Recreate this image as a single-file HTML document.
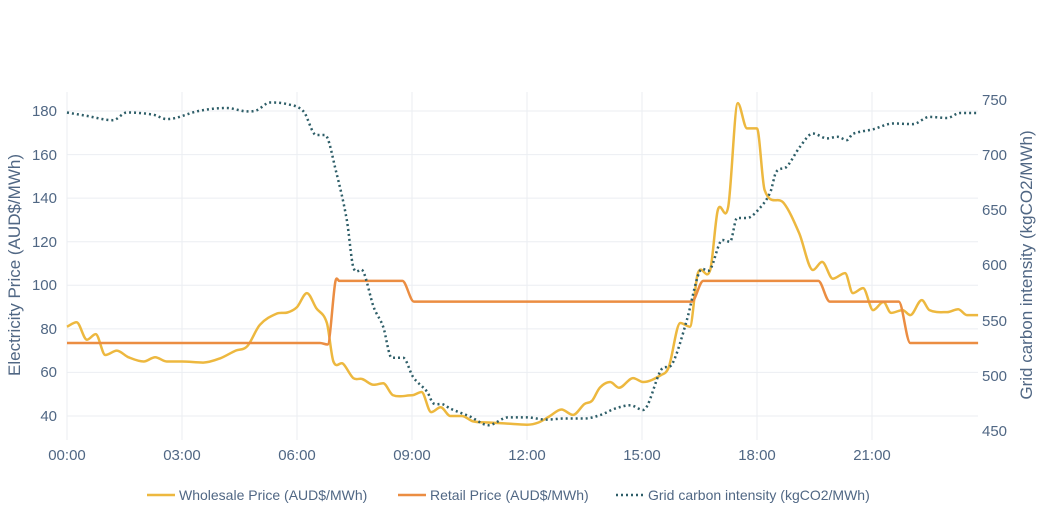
<!DOCTYPE html>
<html><head><meta charset="utf-8"><style>
html,body{margin:0;padding:0;background:#fff;}
svg{display:block;font-family:"Liberation Sans",Arial,sans-serif;}
</style></head><body>
<svg id="s" width="1047" height="518" viewBox="0 0 1047 518">
<g stroke="#ebeef2" stroke-width="1">
<line x1="67" x2="67" y1="92" y2="440"/><line x1="182" x2="182" y1="92" y2="440"/><line x1="297" x2="297" y1="92" y2="440"/><line x1="412" x2="412" y1="92" y2="440"/><line x1="527" x2="527" y1="92" y2="440"/><line x1="642" x2="642" y1="92" y2="440"/><line x1="757" x2="757" y1="92" y2="440"/><line x1="872" x2="872" y1="92" y2="440"/>
<line x1="67" x2="978" y1="111" y2="111"/><line x1="67" x2="978" y1="154.6" y2="154.6"/><line x1="67" x2="978" y1="198.1" y2="198.1"/><line x1="67" x2="978" y1="241.7" y2="241.7"/><line x1="67" x2="978" y1="285.3" y2="285.3"/><line x1="67" x2="978" y1="328.9" y2="328.9"/><line x1="67" x2="978" y1="372.4" y2="372.4"/><line x1="67" x2="978" y1="416" y2="416"/>
</g>
<g fill="#506784" font-size="15" text-anchor="end">
<text x="57" y="116">180</text><text x="57" y="160">160</text><text x="57" y="203">140</text><text x="57" y="247">120</text><text x="57" y="290">100</text><text x="57" y="334">80</text><text x="57" y="377">60</text><text x="57" y="421">40</text>
</g>
<g fill="#506784" font-size="15" text-anchor="start">
<text x="982" y="105">750</text><text x="982" y="160">700</text><text x="982" y="215">650</text><text x="982" y="270">600</text><text x="982" y="326">550</text><text x="982" y="381">500</text><text x="982" y="436">450</text>
</g>
<g fill="#506784" font-size="15" text-anchor="middle">
<text x="67" y="460">00:00</text><text x="182" y="460">03:00</text><text x="297" y="460">06:00</text><text x="412" y="460">09:00</text><text x="527" y="460">12:00</text><text x="642" y="460">15:00</text><text x="757" y="460">18:00</text><text x="872" y="460">21:00</text>
</g>
<text transform="translate(20,265) rotate(-90)" text-anchor="middle" fill="#506784" font-size="17">Electricity Price (AUD$/MWh)</text>
<text transform="translate(1032,265) rotate(-90)" text-anchor="middle" fill="#506784" font-size="17">Grid carbon intensity (kgCO2/MWh)</text>
<g id="series"></g>
<g font-size="14" fill="#506784">
<line x1="147" x2="175" y1="495" y2="495" stroke="#EDB83F" stroke-width="2.5"/><text x="179" y="500">Wholesale Price (AUD$/MWh)</text>
<line x1="398" x2="426" y1="495" y2="495" stroke="#EB8D42" stroke-width="2.5"/><text x="430" y="500">Retail Price (AUD$/MWh)</text>
<line x1="616" x2="644" y1="495" y2="495" stroke="#2E5E68" stroke-width="2.5" stroke-dasharray="2,3"/><text x="648" y="500">Grid carbon intensity (kgCO2/MWh)</text>
</g>
</svg>
<script>
function X(h){return 67+h*38.33;}
function YL(v){return 416-(v-40)*2.179;}
function YR(c){return 430.7-(c-450)*1.105;}
function path(pts,yf){
 var p=pts.map(function(a){return [X(a[0]),yf(a[1])];});
 var n=p.length,m=[];
 for(var i=0;i<n;i++){
  var a=p[Math.max(0,i-1)],b=p[Math.min(n-1,i+1)];
  var s=(b[1]-a[1])/(b[0]-a[0]);
  // flatten at local extrema
  if(i>0&&i<n-1){var d1=p[i][1]-p[i-1][1],d2=p[i+1][1]-p[i][1];if(d1*d2<=0)s=0;}
  m.push(s);
 }
 var d="M"+p[0][0].toFixed(1)+","+p[0][1].toFixed(1);
 for(var i=0;i<n-1;i++){
  var dx=(p[i+1][0]-p[i][0])/3;
  d+=" C"+(p[i][0]+dx).toFixed(1)+","+(p[i][1]+m[i]*dx).toFixed(1)+" "+(p[i+1][0]-dx).toFixed(1)+","+(p[i+1][1]-m[i+1]*dx).toFixed(1)+" "+p[i+1][0].toFixed(1)+","+p[i+1][1].toFixed(1);
 }
 return d;
}
var W=[[0,81],[0.25,83],[0.52,75],[0.75,77.6],[1.0,68],[1.3,70],[1.6,67],[2.0,65],[2.3,67],[2.6,65],[3,65],[3.55,64.5],[4.0,66.5],[4.4,70],[4.7,72],[5.03,81.8],[5.47,87],[5.75,87.5],[6.0,90],[6.26,96.4],[6.5,89.6],[6.78,82.7],[6.95,65],[7.2,64],[7.47,57.4],[7.7,57],[8.0,54.3],[8.25,55],[8.5,49.6],[9.0,49.5],[9.25,51],[9.5,41.8],[9.75,44],[10.0,40],[10.3,40],[10.6,37.5],[11.0,37],[11.5,36.5],[12.0,36],[12.3,37],[12.6,40],[12.9,43],[13.2,40.5],[13.5,45.5],[13.7,47],[13.9,53],[14.17,55.6],[14.4,53],[14.77,57.4],[15.03,55.6],[15.5,58.8],[15.7,62.5],[16.0,82.7],[16.25,81],[16.46,105.6],[16.78,107],[16.98,134.5],[17.25,136],[17.5,183.6],[17.74,172],[18.0,172],[18.2,143.7],[18.7,137.7],[19.1,124],[19.46,107],[19.7,110.7],[19.98,103],[20.3,105.6],[20.5,96.4],[20.77,98.7],[21.03,88.6],[21.3,92.3],[21.5,87.3],[21.8,88.6],[22.0,86.3],[22.3,93.2],[22.5,88.6],[22.96,87.7],[23.25,89],[23.48,86.3],[23.77,86.3]];
var R=[[0,73.5],[6.6,73.5],[6.8,72.8],[7.0,101.5],[7.1,102],[8.75,102],[9.05,92.5],[16.3,92.5],[16.6,102],[19.6,102],[19.9,92.5],[21.7,92.5],[22.0,73.5],[23.77,73.5]];
var C=[[0,738],[0.5,735],[1.2,731],[1.56,738],[2.25,736],[2.6,732],[3.47,739.6],[4.17,742],[4.7,739],[4.95,740],[5.3,747],[5.74,745.6],[6.17,739],[6.5,717.6],[6.73,717.6],[7.03,683],[7.3,640.7],[7.47,598],[7.73,594],[8.0,562],[8.25,544],[8.47,516],[8.77,516],[9.03,498.6],[9.4,485],[9.55,475],[9.8,474],[10.0,470],[10.5,463],[11.0,455],[11.5,462],[12.0,462],[12.5,460],[13.0,461],[13.5,461],[13.9,464],[14.3,470],[14.7,473],[15.03,468.7],[15.5,505],[15.8,511],[16.17,550],[16.5,593.6],[16.78,596],[17.1,622.6],[17.3,621],[17.48,642.5],[17.74,642.5],[18.1,652.5],[18.35,666],[18.5,684],[18.78,689],[19.12,706.8],[19.46,719],[19.83,714.5],[20.1,716],[20.35,713],[20.5,718.6],[21.03,722.8],[21.55,728],[22.07,727.5],[22.5,734],[22.96,733],[23.3,737.5],[23.75,737.5]];
var g=document.getElementById('series'),ns="http://www.w3.org/2000/svg";
function add(d,col,dash){var e=document.createElementNS(ns,'path');e.setAttribute('d',d);e.setAttribute('fill','none');e.setAttribute('stroke',col);e.setAttribute('stroke-width','2.5');e.setAttribute('stroke-linejoin','round');if(dash)e.setAttribute('stroke-dasharray',dash);g.appendChild(e);}
add(path(W,YL),'#EDB83F');
add(path(R,YL),'#EB8D42');
add(path(C,YR),'#2E5E68','2,3');
</script>
</body></html>
